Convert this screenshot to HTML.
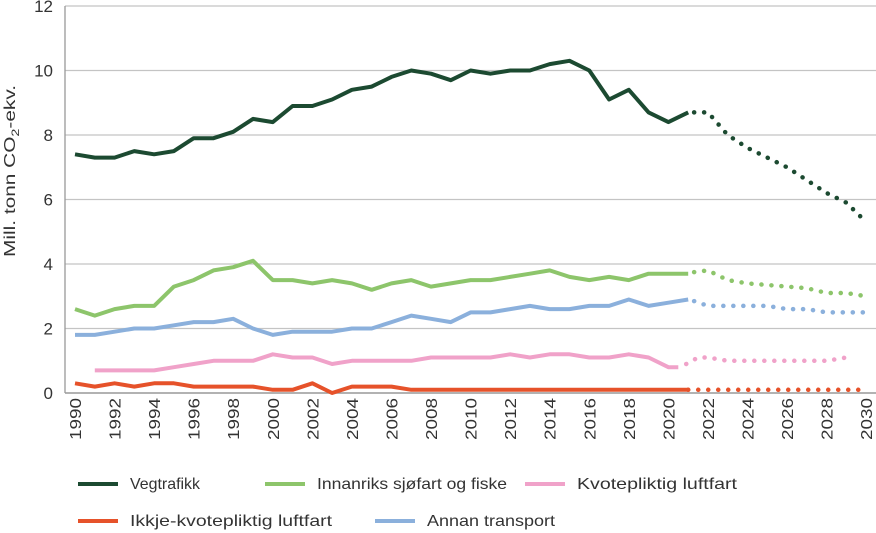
<!DOCTYPE html>
<html><head><meta charset="utf-8"><style>
html,body{margin:0;padding:0;background:#fff;}
svg{display:block;font-family:"Liberation Sans",sans-serif;}
</style></head><body>
<svg id="c" width="876" height="533" xmlns="http://www.w3.org/2000/svg"></svg>
<script>
const s=document.getElementById('c');
const X=y=>75+(y-1990)*19.78, Y=v=>393-v*32.25;
let h='';
for(let v=2;v<=12;v+=2){h+=`<line x1="65" x2="876" y1="${Y(v)}" y2="${Y(v)}" stroke="#c4c4c4" stroke-width="1.3"/>`;}
h+=`<line x1="65" x2="65" y1="6" y2="393" stroke="#999" stroke-width="1.3"/>`;
h+=`<line x1="65" x2="876" y1="393" y2="393" stroke="#999" stroke-width="1.5"/>`;
for(let v=0;v<=12;v+=2){h+=`<text x="53" y="${Y(v)+6}" font-size="17" text-anchor="end" fill="#333">${v}</text>`;}
for(let y=1990;y<=2030;y+=2){h+=`<text transform="translate(${X(y)+6},398) rotate(-90)" font-size="16" text-anchor="end" textLength="42" lengthAdjust="spacingAndGlyphs" fill="#333">${y}</text>`;}
h+=`<text transform="translate(15,171) rotate(-90)" font-size="16" text-anchor="middle" fill="#333" textLength="172" lengthAdjust="spacingAndGlyphs">Mill. tonn CO<tspan font-size="11" dy="4">2</tspan><tspan dy="-4">-ekv.</tspan></text>`;
function line(pts,col,dash){
 const d=pts.map(p=>X(p[0]).toFixed(1)+','+Y(p[1]).toFixed(1)).join(' ');
 h+=`<polyline points="${d}" fill="none" stroke="${col}" stroke-width="${dash?4.5:4}" stroke-linejoin="round" stroke-linecap="${dash?'round':'butt'}" ${dash?'stroke-dasharray="0.1 9.9"':''}/>`;
}
function ser(start,vals){return vals.map((v,i)=>[start+i,v]);}
const cols={veg:'#1c4a31',gr:'#8dc56b',pk:'#f0a2c9',rd:'#e6522a',bl:'#8bb0dc'};
line(ser(1990,[.3,.2,.3,.2,.3,.3,.2,.2,.2,.2,.1,.1,.3,0,.2,.2,.2,.1,.1,.1,.1,.1,.1,.1,.1,.1,.1,.1,.1,.1,.1,.1]),cols.rd);
line(ser(2021,[.1,.1,.1,.1,.1,.1,.1,.1,.1,.1]),cols.rd,1);
let pk=ser(1991,[.7,.7,.7,.7,.8,.9,1,1,1,1.2,1.1,1.1,.9,1,1,1,1,1.1,1.1,1.1,1.1,1.2,1.1,1.2,1.2,1.1,1.1,1.2,1.1,.8]);pk.push([2020.5,.8]);
line(pk,cols.pk);
line([[2020.9,.9],[2021.5,1.1],[2022,1.1],[2023,1],[2024,1],[2025,1],[2026,1],[2027,1],[2028,1],[2029,1.1]],cols.pk,1);
line(ser(1990,[1.8,1.8,1.9,2,2,2.1,2.2,2.2,2.3,2,1.8,1.9,1.9,1.9,2,2,2.2,2.4,2.3,2.2,2.5,2.5,2.6,2.7,2.6,2.6,2.7,2.7,2.9,2.7,2.8,2.9]),cols.bl);
line([[2021.3,2.85],[2022,2.7],[2023,2.7],[2024,2.7],[2025,2.7],[2026,2.6],[2027,2.6],[2028,2.5],[2029,2.5],[2030,2.5]],cols.bl,1);
line(ser(1990,[2.6,2.4,2.6,2.7,2.7,3.3,3.5,3.8,3.9,4.1,3.5,3.5,3.4,3.5,3.4,3.2,3.4,3.5,3.3,3.4,3.5,3.5,3.6,3.7,3.8,3.6,3.5,3.6,3.5,3.7,3.7,3.7]),cols.gr);
line([[2021.3,3.75],[2022,3.8],[2023,3.5],[2024,3.4],[2025,3.35],[2026,3.3],[2027,3.25],[2028,3.1],[2029,3.1],[2030,3.0]],cols.gr,1);
line(ser(1990,[7.4,7.3,7.3,7.5,7.4,7.5,7.9,7.9,8.1,8.5,8.4,8.9,8.9,9.1,9.4,9.5,9.8,10,9.9,9.7,10,9.9,10,10,10.2,10.3,10,9.1,9.4,8.7,8.4,8.7]),cols.veg);
line([[2021.3,8.7],[2022,8.7],[2023,8.0],[2024,7.6],[2025,7.3],[2026,7.0],[2027,6.6],[2028,6.2],[2029,5.9],[2030,5.3]],cols.veg,1);
const L=[[78,484,cols.veg,'Vegtrafikk',70],[265,484,cols.gr,'Innanriks sjøfart og fiske',190],[525,484,cols.pk,'Kvotepliktig luftfart',160],[78,521,cols.rd,'Ikkje-kvotepliktig luftfart',202],[375,521,cols.bl,'Annan transport',128]];
for(const [x,y,c,t,w] of L){h+=`<line x1="${x}" x2="${x+40}" y1="${y}" y2="${y}" stroke="${c}" stroke-width="4"/><text x="${x+52}" y="${y+5}" font-size="16" textLength="${w}" lengthAdjust="spacingAndGlyphs" fill="#333">${t}</text>`;}
s.innerHTML=h;
</script>
</body></html>
